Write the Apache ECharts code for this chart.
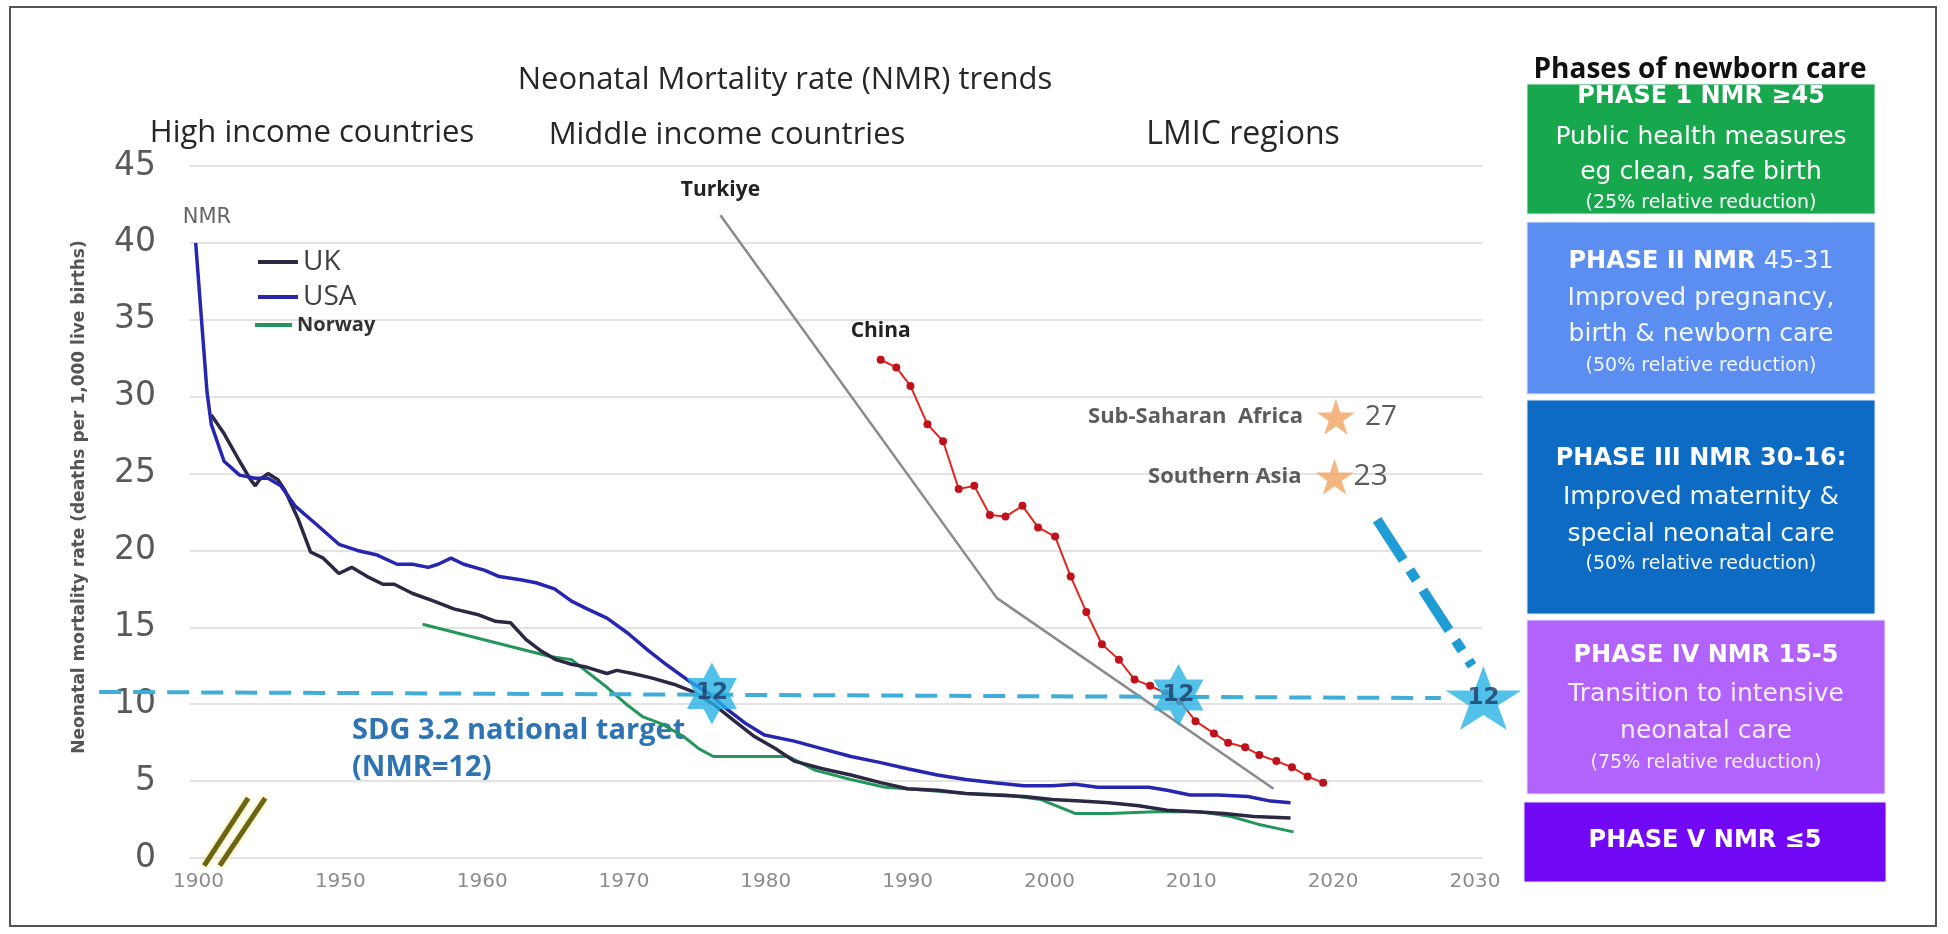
<!DOCTYPE html>
<html>
<head>
<meta charset="utf-8">
<title>Neonatal Mortality rate (NMR) trends</title>
<style>
  html, body { margin: 0; padding: 0; background: #fff; }
  #container { width: 1948px; height: 934px; }
</style>
</head>
<body>
<div id="container"></div>
<script src="https://cdn.jsdelivr.net/npm/echarts@6/dist/echarts.min.js"></script>
<script type="text/javascript">
// ---- data (x = position on the year axis, y = NMR) ----
// the axis is broken: the first tick is labelled 1900 but sits one decade before 1950
var xTickValues = [1940, 1950, 1960, 1970, 1980, 1990, 2000, 2010, 2020, 2030];
var xTickLabels = ['1900', '1950', '1960', '1970', '1980', '1990', '2000', '2010', '2020', '2030'];

var ukYears = [1940.9, 1941.8, 1942.9, 1943.6, 1944.0, 1944.3, 1944.9, 1945.6, 1946.1, 1947.0, 1947.9, 1948.8, 1949.9, 1950.8, 1951.9, 1953.0, 1953.8, 1955.1, 1956.6, 1958.0, 1959.8, 1960.9, 1962.0, 1963.1, 1964.1, 1965.2, 1966.3, 1967.4, 1968.8, 1969.5, 1970.6, 1972.0, 1973.5, 1974.9, 1976.3, 1977.8, 1979.2, 1980.7, 1982.0, 1984.0, 1986.0, 1988.1, 1990.0, 1992.1, 1994.1, 1996.1, 1998.2, 2000.2, 2002.2, 2004.2, 2006.3, 2008.3, 2010.3, 2012.3, 2014.4, 2017.0];
var ukNmr = [28.8, 27.6, 25.8, 24.7, 24.2, 24.6, 25.0, 24.6, 23.9, 22.1, 19.9, 19.5, 18.5, 18.9, 18.3, 17.8, 17.8, 17.2, 16.7, 16.2, 15.8, 15.4, 15.3, 14.2, 13.5, 12.9, 12.6, 12.4, 12.0, 12.2, 12.0, 11.7, 11.3, 10.8, 10.0, 8.9, 7.9, 7.1, 6.3, 5.8, 5.4, 4.9, 4.5, 4.4, 4.2, 4.1, 4.0, 3.8, 3.7, 3.6, 3.4, 3.1, 3.0, 2.9, 2.7, 2.6];

var usaYears = [1939.8, 1940.6, 1940.9, 1941.8, 1942.9, 1944.0, 1944.9, 1945.8, 1946.8, 1948.3, 1949.9, 1951.2, 1952.6, 1954.0, 1955.1, 1956.2, 1956.9, 1957.8, 1958.7, 1960.2, 1961.2, 1962.7, 1963.8, 1965.1, 1966.3, 1967.4, 1968.8, 1970.3, 1971.7, 1973.1, 1974.6, 1976.0, 1977.1, 1978.5, 1979.9, 1982.0, 1984.0, 1986.0, 1988.1, 1990.0, 1992.1, 1994.1, 1996.1, 1998.2, 2000.2, 2001.8, 2003.4, 2005.4, 2007.0, 2008.3, 2009.9, 2011.9, 2014.0, 2015.6, 2017.0];
var usaNmr = [40.0, 30.3, 28.2, 25.8, 24.9, 24.7, 24.7, 24.2, 22.9, 21.7, 20.4, 20.0, 19.7, 19.1, 19.1, 18.9, 19.1, 19.5, 19.1, 18.7, 18.3, 18.1, 17.9, 17.5, 16.7, 16.2, 15.6, 14.6, 13.5, 12.5, 11.5, 10.7, 9.8, 8.8, 8.0, 7.6, 7.1, 6.6, 6.2, 5.8, 5.4, 5.1, 4.9, 4.7, 4.7, 4.8, 4.6, 4.6, 4.6, 4.4, 4.1, 4.1, 4.0, 3.7, 3.6];

var norwayYears = [1955.8, 1964.8, 1966.3, 1967.4, 1968.8, 1970.3, 1971.3, 1972.7, 1974.2, 1975.3, 1976.3, 1981.6, 1983.5, 1986.0, 1988.4, 1991.3, 1994.1, 1997.0, 1999.4, 2001.8, 2004.2, 2007.5, 2010.7, 2012.8, 2014.7, 2017.2];
var norwayNmr = [15.2, 13.1, 12.9, 12.1, 11.1, 9.9, 9.2, 8.7, 7.9, 7.1, 6.6, 6.6, 5.7, 5.1, 4.6, 4.4, 4.2, 4.1, 3.8, 2.9, 2.9, 3.0, 3.0, 2.7, 2.2, 1.7];

var turkiyeYears = [1976.8, 1996.3, 2015.8];
var turkiyeNmr = [41.8, 16.9, 4.5];

var chinaYears = [1988.1, 1989.2, 1990.2, 1991.4, 1992.5, 1993.6, 1994.7, 1995.8, 1996.9, 1998.1, 1999.2, 2000.4, 2001.5, 2002.6, 2003.7, 2004.9, 2006.0, 2007.1, 2008.2, 2009.2, 2010.3, 2011.6, 2012.6, 2013.8, 2014.8, 2016.0, 2017.1, 2018.2, 2019.3];
var chinaNmr = [32.4, 31.9, 30.7, 28.2, 27.1, 24.0, 24.2, 22.3, 22.2, 22.9, 21.5, 20.9, 18.3, 16.0, 13.9, 12.9, 11.6, 11.2, 10.7, 10.2, 8.9, 8.1, 7.5, 7.2, 6.7, 6.3, 5.9, 5.3, 4.9];

// SDG 3.2 target line and the places where it is reached
var targetNmr = 12;
var sdgYears = [1933.0, 2027.6];
var sdgNmr = [10.8, 10.4];
var reachYears = [1976.2, 2009.1, 2030.6];
var reachNmr = [10.7, 10.6, 10.4];

// LMIC regions
var regionNames = ['Sub-Saharan  Africa', 'Southern Asia'];
var regionValues = [27, 23];
var regionYears = [2020.2, 2020.1];
var regionNmr = [28.7, 24.8];

// projection towards 2030
var projYears = [2023.1, 2029.8];
var projNmr = [22.0, 12.5];

// axis break marks
var breakA = [[1940.4, -0.5], [1943.5, 3.9]];
var breakB = [[1941.5, -0.5], [1944.7, 3.9]];

var phases = [
    { title: '{b|PHASE 1 NMR \u226545}', lines: ['Public health measures', 'eg clean, safe birth'], note: '(25% relative reduction)' },
    { title: '{b|PHASE II NMR }{n|45-31}', lines: ['Improved pregnancy,', 'birth & newborn care'], note: '(50% relative reduction)' },
    { title: '{b|PHASE III NMR 30-16:}', lines: ['Improved maternity &', 'special neonatal care'], note: '(50% relative reduction)' },
    { title: '{b|PHASE IV NMR 15-5}', lines: ['Transition to intensive', 'neonatal care'], note: '(75% relative reduction)' },
    { title: '{b|PHASE V NMR \u22645}', lines: [], note: '' }
];

function pairs(xs, ys) {
    return xs.map(function (x, i) { return [x, ys[i]]; });
}

// symbol shapes
var hexStar = 'path://M0,-10 L2.89,-5 L8.66,-5 L5.77,0 L8.66,5 L2.89,5 L0,10 L-2.89,5 L-8.66,5 L-5.77,0 L-8.66,-5 L-2.89,-5 Z';
var fiveStar = 'path://M0,-100 L22.45,-30.9 L95.1,-30.9 L36.3,11.8 L58.8,80.9 L0,38.2 L-58.8,80.9 L-36.3,11.8 L-95.1,-30.9 L-22.45,-30.9 Z';

// plot area; the target line runs further left than the grid lines
var plotLeft = 190, plotRight = 466, plotTop = 166, plotBottom = 76;
var xMin = 1939.4, xMax = 2030.5;
var sdgLeft = 95;
var pxPerYear = (1948 - plotRight - plotLeft) / (xMax - xMin);
var sdgMin = xMin - (plotLeft - sdgLeft) / pxPerYear;

// ---- phase boxes on the right ----
var boxLayout = [
    { x: 1527, y: 84, w: 348, h: 130, fill: '#17a74c', text: '#ffffff', rows: [97, 137, 172, 203] },
    { x: 1527, y: 222, w: 348, h: 172, fill: '#5b8ef0', text: '#f2f6ff', rows: [262, 298, 334, 366] },
    { x: 1527, y: 400, w: 348, h: 214, fill: '#0d6bc3', text: '#f4f8ff', rows: [459, 497, 534, 564] },
    { x: 1527, y: 620, w: 358, h: 174, fill: '#b163fb', text: '#f7ecff', rows: [656, 694, 731, 763] },
    { x: 1524, y: 802, w: 362, h: 80, fill: '#7108f6', text: '#ffffff', rows: [841] }
];
var graphics = [
    { type: 'rect', shape: { x: 10, y: 7, width: 1926, height: 919 }, style: { fill: 'none', stroke: '#555', lineWidth: 2 }, silent: true },
    { type: 'text', x: 207, y: 218, style: { text: 'NMR', font: '21px "DejaVu Sans"', fill: '#666', align: 'center', verticalAlign: 'middle' } },
    { type: 'text', x: 352, y: 731, style: { text: 'SDG 3.2 national target', font: 'bold 29px "Open Sans"', fill: '#2e74b5', verticalAlign: 'middle' } },
    { type: 'text', x: 352, y: 768, style: { text: '(NMR=12)', font: 'bold 29px "Open Sans"', fill: '#2e74b5', verticalAlign: 'middle' } }
];
phases.forEach(function (p, i) {
    var b = boxLayout[i];
    var cx = b.x + b.w / 2;
    graphics.push({ type: 'rect', shape: { x: b.x, y: b.y, width: b.w, height: b.h }, style: { fill: b.fill, stroke: '#e4ecf7', lineWidth: 1 }, silent: true });
    var rows = [p.title].concat(p.lines);
    if (p.note) rows.push(p.note);
    rows.forEach(function (t, k) {
        var st = { text: t, fill: b.text, align: 'center', verticalAlign: 'middle' };
        if (k === 0) {
            st.rich = {
                b: { fontFamily: 'DejaVu Sans', fontWeight: 'bold', fontSize: 24, fill: '#ffffff' },
                n: { fontFamily: 'DejaVu Sans', fontSize: 24, fill: b.text }
            };
        } else if (p.note && k === rows.length - 1) {
            st.font = '19px "DejaVu Sans"';
        } else {
            st.font = '25px "DejaVu Sans"';
        }
        graphics.push({ type: 'text', x: cx, y: b.rows[k], style: st, silent: true });
    });
});

var headerStyle = { fontFamily: 'Open Sans', fontSize: 31, fontWeight: 'normal', color: '#262626' };

var myChart = echarts.init(document.getElementById('container'));
var option = {
    animation: false,
    backgroundColor: '#ffffff',
    title: [
        { text: 'Neonatal Mortality rate (NMR) trends', left: 785, top: 80, textAlign: 'center', textVerticalAlign: 'middle', padding: 0, textStyle: headerStyle },
        { text: 'High income countries', left: 312, top: 133, textAlign: 'center', textVerticalAlign: 'middle', padding: 0, textStyle: headerStyle },
        { text: 'Middle income countries', left: 727, top: 135, textAlign: 'center', textVerticalAlign: 'middle', padding: 0, textStyle: headerStyle },
        { text: 'LMIC regions', left: 1243, top: 135, textAlign: 'center', textVerticalAlign: 'middle', padding: 0,
          textStyle: { fontFamily: 'Open Sans', fontSize: 32, fontWeight: 'normal', color: '#262626' } },
        { text: 'Phases of newborn care', left: 1700, top: 70, textAlign: 'center', textVerticalAlign: 'middle', padding: 0,
          textStyle: { fontFamily: 'Open Sans', fontSize: 28, fontWeight: 'bold', color: '#111' } }
    ],
    legend: [
        { data: ['UK'], left: 258, top: 248, padding: 0, icon: 'rect', itemWidth: 40, itemHeight: 4, selectedMode: false,
          textStyle: { fontFamily: 'Open Sans', fontSize: 28, color: '#404040' } },
        { data: ['USA'], left: 258, top: 283, padding: 0, icon: 'rect', itemWidth: 40, itemHeight: 4, selectedMode: false,
          textStyle: { fontFamily: 'Open Sans', fontSize: 28, color: '#404040' } },
        { data: ['Norway'], left: 255, top: 315, padding: 0, icon: 'rect', itemWidth: 37, itemHeight: 4, selectedMode: false,
          textStyle: { fontFamily: 'Open Sans', fontSize: 20, fontWeight: 'bold', color: '#333' } }
    ],
    grid: [
        { left: plotLeft, right: plotRight, top: plotTop, bottom: plotBottom },
        { left: sdgLeft, right: plotRight, top: plotTop, bottom: plotBottom }
    ],
    xAxis: [{
        type: 'value', min: xMin, max: xMax,
        axisLine: { show: false }, axisTick: { show: false }, splitLine: { show: false },
        axisLabel: {
            customValues: xTickValues,
            formatter: function (v) { return xTickLabels[xTickValues.indexOf(Math.round(v))]; },
            fontFamily: 'DejaVu Sans', fontSize: 20, color: '#8c8c8c', margin: 14
        }
    }, {
        type: 'value', gridIndex: 1, min: sdgMin, max: xMax, show: false
    }],
    yAxis: [{
        type: 'value', min: 0, max: 45, interval: 5,
        name: 'Neonatal mortality rate (deaths per 1,000 live births)',
        nameLocation: 'middle', nameGap: 102, nameRotate: 90,
        nameTextStyle: { fontFamily: 'DejaVu Sans', fontWeight: 'bold', fontSize: 17, color: '#555', padding: [0, 0, 0, 30] },
        axisLine: { show: false }, axisTick: { show: false },
        axisLabel: { fontFamily: 'DejaVu Sans', fontSize: 33, color: '#595959', margin: 34 },
        splitLine: { lineStyle: { color: '#e3e3e3', width: 2 } }
    }, {
        type: 'value', gridIndex: 1, min: 0, max: 45, show: false, splitLine: { show: false }
    }],
    graphic: graphics,
    series: [
        { name: 'Norway', type: 'line', data: pairs(norwayYears, norwayNmr), symbol: 'none', z: 2,
          lineStyle: { color: '#23975b', width: 3 }, itemStyle: { color: '#23975b' } },
        { name: 'UK', type: 'line', data: pairs(ukYears, ukNmr), symbol: 'none', z: 3,
          lineStyle: { color: '#2c2742', width: 3.5 }, itemStyle: { color: '#2c2742' } },
        { name: 'USA', type: 'line', data: pairs(usaYears, usaNmr), symbol: 'none', z: 4,
          lineStyle: { color: '#2626b0', width: 3.5 }, itemStyle: { color: '#2626b0' } },
        { name: 'Turkiye', type: 'line', symbol: 'circle', symbolSize: 1, showSymbol: true, z: 2,
          data: turkiyeYears.map(function (x, i) {
              return i === 0 ? { value: [x, turkiyeNmr[i]], label: { show: true } } : [x, turkiyeNmr[i]];
          }),
          label: { position: 'top', distance: 14, formatter: '{a}', fontFamily: 'Open Sans', fontWeight: 'bold', fontSize: 21, color: '#222' },
          lineStyle: { color: '#8a8a8a', width: 2.5 }, itemStyle: { color: 'rgba(0,0,0,0)' } },
        { name: 'China', type: 'line', symbol: 'circle', symbolSize: 8, z: 3,
          data: chinaYears.map(function (x, i) {
              return i === 0 ? { value: [x, chinaNmr[i]], label: { show: true } } : [x, chinaNmr[i]];
          }),
          label: { position: 'top', distance: 14, formatter: '{a}', fontFamily: 'Open Sans', fontWeight: 'bold', fontSize: 21, color: '#222' },
          lineStyle: { color: '#e3261f', width: 2 }, itemStyle: { color: '#c0121a' } },
        { name: 'SDG target', type: 'line', xAxisIndex: 1, yAxisIndex: 1, data: pairs(sdgYears, sdgNmr), symbol: 'none', z: 5,
          lineStyle: { color: '#40acd8', width: 4, type: [22, 12] } },
        { name: 'Projection', type: 'line', data: pairs(projYears, projNmr), symbol: 'none', clip: false, z: 5,
          lineStyle: { color: '#1f9cd6', width: 10, type: [48, 12, 12, 12], cap: 'butt' } },
        { name: 'break1', type: 'line', data: breakA, symbol: 'none', clip: false, z: 5,
          lineStyle: { color: '#6b6413', width: 5, shadowColor: '#efe27a', shadowBlur: 4 } },
        { name: 'break2', type: 'line', data: breakB, symbol: 'none', clip: false, z: 5,
          lineStyle: { color: '#6b6413', width: 5, shadowColor: '#efe27a', shadowBlur: 4 } },
        { name: 'Target reached', type: 'scatter', clip: false, z: 10,
          data: reachYears.map(function (x, i) {
              var last = i === reachYears.length - 1;
              return { value: [x, reachNmr[i]], symbol: last ? fiveStar : hexStar, symbolSize: last ? [76, 64] : [50, 62] };
          }),
          itemStyle: { color: '#27b3e6' },
          label: { show: true, position: 'inside', formatter: function () { return String(targetNmr); },
                   fontFamily: 'DejaVu Sans', fontWeight: 'bold', fontSize: 23, color: '#1c3b66' } },
        { name: 'Regions', type: 'scatter', clip: false, z: 10, symbol: fiveStar, symbolSize: [38, 36],
          data: regionYears.map(function (x, i) { return { name: regionNames[i], value: [x, regionNmr[i]] }; }),
          itemStyle: { color: '#f3a262' },
          label: { show: true, position: 'left', distance: 14, formatter: '{b}', fontFamily: 'Open Sans', fontWeight: 'bold', fontSize: 22, color: '#333' } },
        { name: 'Region values', type: 'scatter', clip: false, z: 10, symbol: fiveStar, symbolSize: [38, 36],
          data: regionYears.map(function (x, i) {
              return { name: String(regionValues[i]), value: [x, regionNmr[i]], label: { distance: i === 0 ? 10 : 0, fontSize: i === 0 ? 28 : 30 } };
          }),
          itemStyle: { color: 'rgba(0,0,0,0)' },
          label: { show: true, position: 'right', formatter: '{b}', fontFamily: 'Open Sans', fontSize: 28, color: '#333' } }
    ]
};
myChart.setOption(option);
window.addEventListener('resize', myChart.resize);
</script>
</body>
</html>
